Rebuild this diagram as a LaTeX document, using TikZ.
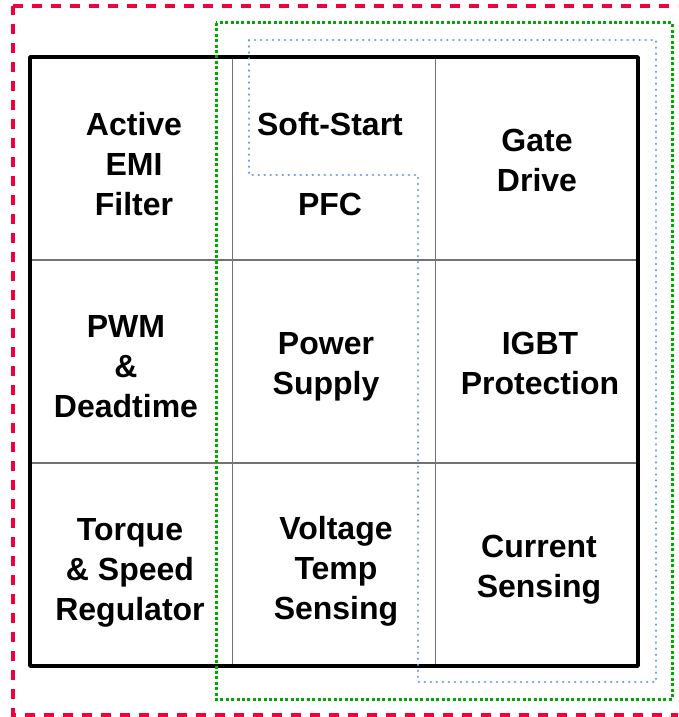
\documentclass[tikz,border=0pt]{standalone}
\usepackage{fontspec}
\setmainfont{Liberation Sans}
\definecolor{dred}{HTML}{F0003C}
\definecolor{dgreen}{HTML}{00A800}
\definecolor{dblue}{HTML}{6A95EE}
\tikzset{
  lbl/.style={align=center, inner sep=0pt, font=\bfseries\fontsize{32}{40}\selectfont},
  outerbox/.style={draw=black, line width=3.6pt, line join=round},
  gridline/.style={draw=black!55, line width=1.3pt},
  redzone/.style={draw=dred, line width=3.4pt, dash pattern=on 10pt off 9pt},
  greenzone/.style={draw=dgreen, line width=3pt, dash pattern=on 3pt off 2.4pt},
  bluezone/.style={draw=dblue, line width=2.8pt, line cap=round, dash pattern=on 0.01pt off 6pt}
}
\begin{document}
\begin{tikzpicture}[x=1pt,y=-1pt]
\useasboundingbox[fill=white] (0,0) rectangle (678,717);
\clip (0,0) rectangle (678,717);
% grid
\draw[gridline] (232.7,57) -- (232.7,666);
\draw[gridline] (435.3,57) -- (435.3,666);
\draw[gridline] (30,260) -- (638,260);
\draw[gridline] (30,463) -- (638,463);
\draw[outerbox] (30,57) rectangle (638,666);
% labels
\node[lbl] (emi) at (134,164) {Active\\EMI\\Filter};
\node[lbl] (soft) at (330,124) {Soft-Start};
\node[lbl] (pfc) at (330,204) {PFC};
\node[lbl] (gate) at (537,160) {Gate\\Drive};
\node[lbl] (pwm) at (126,367) {PWM\\\&\\Deadtime};
\node[lbl] (psu) at (326,367) {Power\\Supply};
\node[lbl] (igbt) at (540,363) {IGBT\\Protection};
\node[lbl] (torque) at (130,572.5) {Torque\\\& Speed\\Regulator};
\node[lbl] (vts) at (336,571.5) {Voltage\\Temp\\Sensing};
\node[lbl] (cur) at (539,570) {Current\\Sensing};
% zones
\draw[redzone] (13,6) -- (700,6) (700,715) -- (13,715) -- (13,6);
\draw[greenzone] (216,23) rectangle (672,699);
\draw[bluezone] (249,40) -- (656,40) -- (656,682) -- (418,682) -- (418,175) -- (249,175) -- cycle;
\end{tikzpicture}
\end{document}
